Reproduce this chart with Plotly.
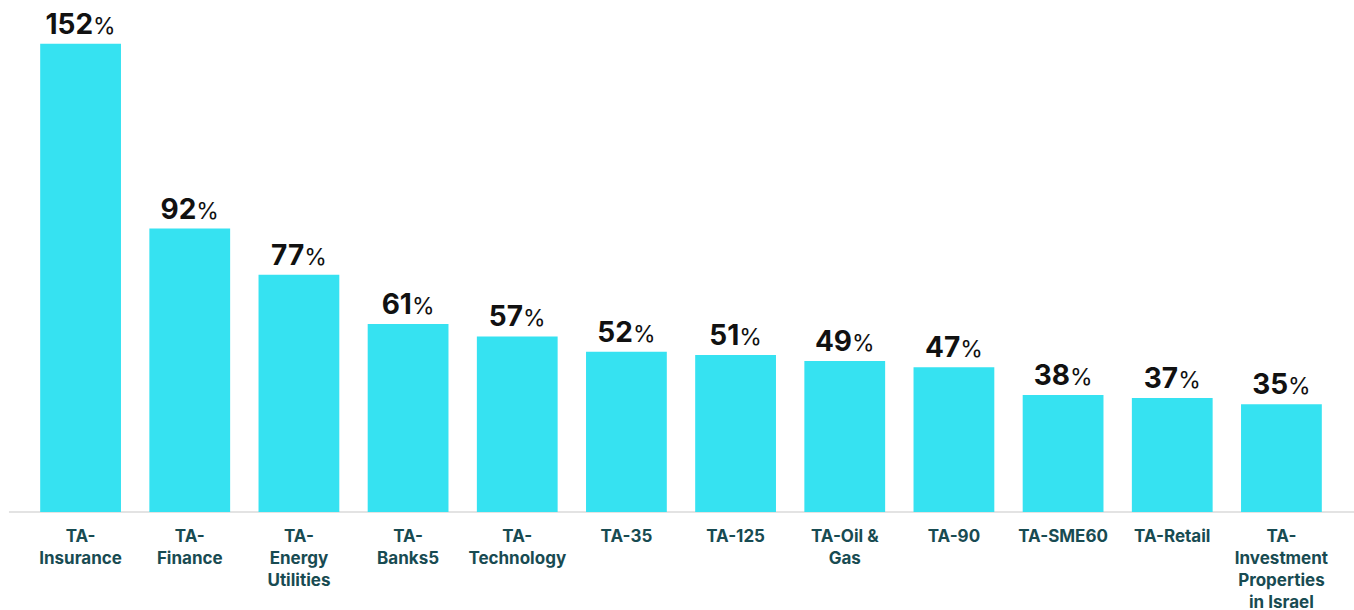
import plotly.graph_objects as go

categories = ["TA-<br>Insurance", "TA-<br>Finance", "TA-<br>Energy<br>Utilities", "TA-<br>Banks5",
              "TA-<br>Technology", "TA-35", "TA-125", "TA-Oil &<br>Gas", "TA-90", "TA-SME60",
              "TA-Retail", "TA-<br>Investment<br>Properties<br>in Israel"]
values = [152, 92, 77, 61, 57, 52, 51, 49, 47, 38, 37, 35]
labels = [f"<b>{v}</b><span style='font-size:23px'>%</span>" for v in values]

fig = go.Figure(go.Bar(
    x=categories, y=values, text=labels, textposition="outside",
    marker=dict(color="#36e2f1", line=dict(width=0)),
    textfont=dict(family="Inter", size=28, color="#111111"),
    cliponaxis=False, hoverinfo="skip"))

fig.update_layout(
    width=1354, height=610,
    margin=dict(l=26, r=18, t=20, b=98),
    paper_bgcolor="white", plot_bgcolor="white",
    bargap=0.26, showlegend=False,
    xaxis=dict(showgrid=False, showline=False, ticks="", fixedrange=True, ticklabelstandoff=12,
               automargin=False,
               tickfont=dict(family="Inter", size=17, color="#184b52", weight="bold")),
    yaxis=dict(range=[0, 159.7], visible=False, fixedrange=True, automargin=False),
    shapes=[dict(type="line", xref="paper", yref="paper", x0=-0.013, x1=1.014, y0=0, y1=0,
                 line=dict(color="#e3e3e3", width=2), layer="below")],
)
fig.write_html("out.html")
